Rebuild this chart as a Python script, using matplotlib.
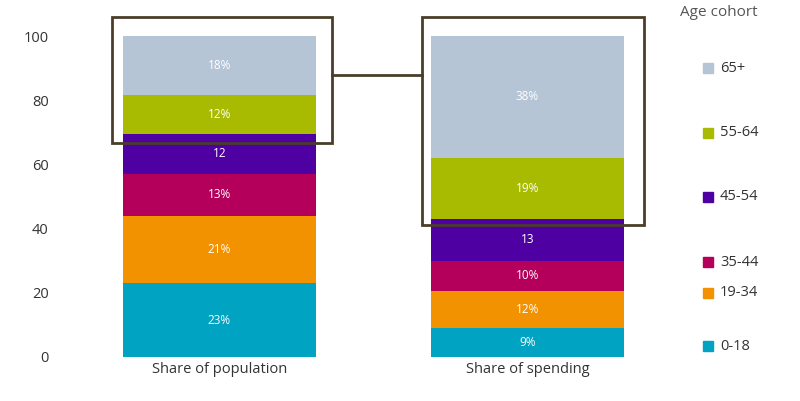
import matplotlib.pyplot as plt
from matplotlib.patches import Rectangle

plt.rcParams['font.family'] = ['Open Sans', 'DejaVu Sans']

categories = ["Share of population", "Share of spending"]
cohorts = ["0-18", "19-34", "35-44", "45-54", "55-64", "65+"]
colors = ["#00a3c1", "#f39200", "#b4005a", "#4e00a3", "#a9bb00", "#b5c5d6"]
population = [23, 21, 13, 12.5, 12, 18.5]
spending = [9, 11.5, 9.5, 13, 19, 38]
pop_labels = ["23%", "21%", "13%", "12", "12%", "18%"]
spend_labels = ["9%", "12%", "10%", "13", "19%", "38%"]

fig = plt.figure(figsize=(8, 4.01), dpi=100)
ax = fig.add_axes([65.5 / 800, 44 / 401, 616 / 800, 321 / 401])
ax.set_xlim(-0.5, 1.5)
ax.set_ylim(0, 100)

for i, (vals, labs) in enumerate([(population, pop_labels), (spending, spend_labels)]):
    bottom = 0
    for v, c, lab in zip(vals, colors, labs):
        ax.bar(i, v, bottom=bottom, width=0.627, color=c)
        ax.text(i, bottom + v / 2, lab, ha='center', va='center', color='white', fontsize=8.5)
        bottom += v

# highlight boxes
box_col = "#4b3d2a"
ax.add_patch(Rectangle((-0.35, 66.7), 0.715, 39.2, fill=False, ec=box_col, lw=2, clip_on=False))
ax.add_patch(Rectangle((0.657, 41.0), 0.72, 64.9, fill=False, ec=box_col, lw=2, clip_on=False))
ax.plot([0.365, 0.657], [88, 88], color=box_col, lw=2, clip_on=False)

ax.set_xticks([0, 1])
ax.set_xticklabels(categories, fontsize=10.5, color='#333333')
ax.set_yticks([0, 20, 40, 60, 80, 100])
ax.tick_params(length=0, labelsize=10.5, labelcolor='#333333')
ax.tick_params(axis='y', pad=12)
for s in ax.spines.values():
    s.set_visible(False)

# legend
fig.text(680 / 800, 1 - 12 / 401, "Age cohort", fontsize=11, color='#555555', va='center')
leg_y = [346, 293, 262, 197, 133, 68]
for c, name, y in zip(colors, cohorts, leg_y):
    fig.patches.append(Rectangle((703 / 800, 1 - (y + 5) / 401), 10 / 800, 10 / 401,
                                 color=c, transform=fig.transFigure))
    fig.text(720 / 800, 1 - y / 401, name, fontsize=10.5, color='#333333', va='center')

fig.savefig("out.png", dpi=100)
